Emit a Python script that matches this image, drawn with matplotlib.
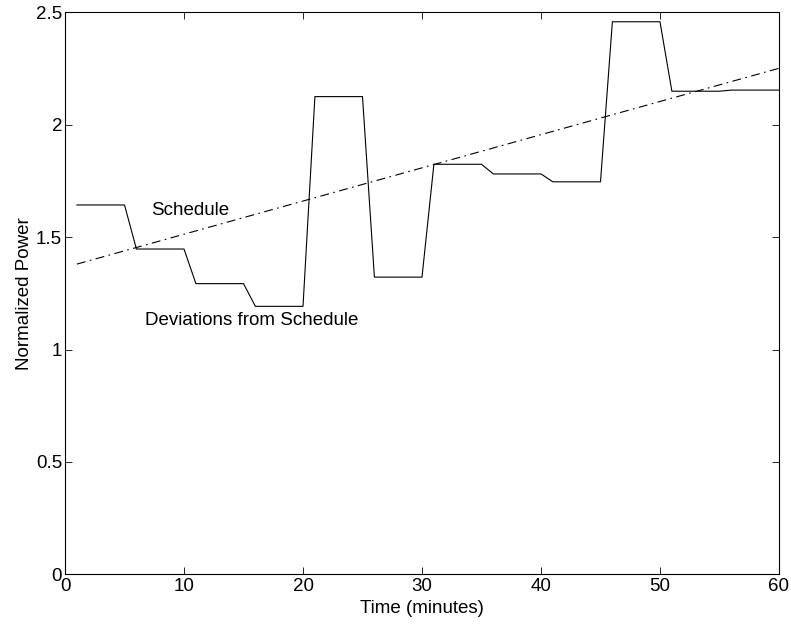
import numpy as np
import matplotlib.pyplot as plt

plt.rcParams['font.family'] = ['Liberation Sans', 'DejaVu Sans']

# Measured power, one sample per minute
minutes = np.arange(1, 61)
power = [
    1.643, 1.643, 1.643, 1.643, 1.643,
    1.447, 1.447, 1.447, 1.447, 1.447,
    1.293, 1.293, 1.293, 1.293, 1.293,
    1.192, 1.192, 1.192, 1.192, 1.192,
    2.125, 2.125, 2.125, 2.125, 2.125,
    1.322, 1.322, 1.322, 1.322, 1.322,
    1.824, 1.824, 1.824, 1.824, 1.824,
    1.781, 1.781, 1.781, 1.781, 1.781,
    1.746, 1.746, 1.746, 1.746, 1.746,
    2.458, 2.458, 2.458, 2.458, 2.458,
    2.149, 2.149, 2.149, 2.149, 2.149,
    2.154, 2.154, 2.154, 2.154, 2.154,
]

# Schedule endpoints
sched_t = [1, 60]
sched_p = [1.380, 2.251]

xticks = [0, 10, 20, 30, 40, 50, 60]
yticks = [0, 0.5, 1, 1.5, 2, 2.5]
yticklabels = ['0', '0.5', '1', '1.5', '2', '2.5']

fs = 13.5

fig = plt.figure(figsize=(7.91, 6.25), dpi=100)
ax = fig.add_axes([0.0822, 0.0811, 0.9026, 0.8992])

ax.plot(minutes, power, '-', color='black', linewidth=0.8)
ax.plot(sched_t, sched_p, color='black', linewidth=0.8,
        linestyle=(0, (8, 4, 1.5, 4)))

ax.text(7.2, 1.62, 'Schedule', fontsize=fs, ha='left', va='center')
ax.text(6.7, 1.128, 'Deviations from Schedule', fontsize=fs,
        ha='left', va='center')

ax.set_xlim(0, 60)
ax.set_ylim(0, 2.5)
ax.set_xticks(xticks)
ax.set_yticks(yticks)
ax.set_yticklabels(yticklabels)
ax.tick_params(direction='in', length=5, width=0.6, top=True, right=True,
               labelsize=fs)
ax.tick_params(axis='x', pad=3)
ax.tick_params(axis='y', pad=2)
for s in ax.spines.values():
    s.set_linewidth(0.8)

ax.set_xlabel('Time (minutes)', fontsize=fs, labelpad=3)
ax.set_ylabel('Normalized Power', fontsize=fs, labelpad=2)

fig.savefig('out.png', dpi=100)
